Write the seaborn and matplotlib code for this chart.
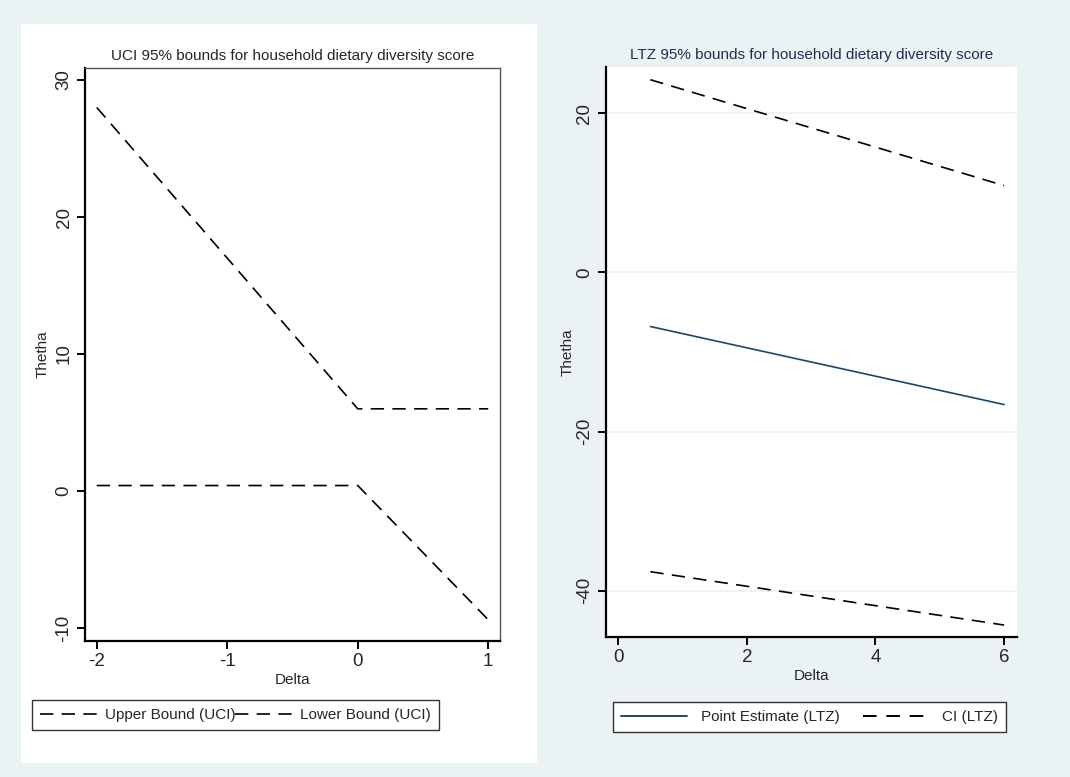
import matplotlib
matplotlib.use("Agg")
import matplotlib.pyplot as plt
from matplotlib.patches import Rectangle
from matplotlib.lines import Line2D
import seaborn as sns

# values
uci_delta = [-2, 0, 1]
uci_upper = [28, 6, 6]
uci_lower = [0.4, 0.4, -9.4]

ltz_delta = [0.5, 6]
ltz_point = [-6.8, -16.6]
ltz_ci_upper = [24.2, 10.9]
ltz_ci_lower = [-37.6, -44.3]

uci_xticks = [-2, -1, 0, 1]
uci_yticks = [-10, 0, 10, 20, 30]
ltz_xticks = [0, 2, 4, 6]
ltz_yticks = [-40, -20, 0, 20]

BG = "#EAF2F3"
NAVY = "#1A476F"
DASH = (0, (8, 5))
W, H = 1070, 777

sns.set_theme(style="white")
plt.rcParams["font.family"] = ["Liberation Sans", "DejaVu Sans"]

fig = plt.figure(figsize=(W / 100, H / 100), dpi=100, facecolor=BG)


def px_axes(x0, y0, x1, y1):
    # pixel box (top-left origin) -> figure axes
    return fig.add_axes([x0 / W, 1 - y1 / H, (x1 - x0) / W, (y1 - y0) / H])


def style_axes(ax, box):
    ax.set_facecolor("white")
    for side in ["left", "bottom"]:
        ax.spines[side].set_color("black")
        ax.spines[side].set_linewidth(1.6)
    for side in ["top", "right"]:
        ax.spines[side].set_visible(box)
        ax.spines[side].set_color("#555555")
        ax.spines[side].set_linewidth(1.0)
    ax.tick_params(axis="both", direction="out", length=6, width=1.4, color="black",
                   labelsize=13.5, pad=3, left=True, bottom=True)
    for lab in ax.get_yticklabels():
        lab.set_rotation(90)
        lab.set_va("center")


# white panel behind the left graph
fig.patches.append(Rectangle((21 / W, 1 - 763 / H), (537 - 21) / W, (763 - 24) / H,
                             transform=fig.transFigure, facecolor="white", edgecolor="none",
                             zorder=-5))

# ---- left: UCI ----
ax1 = px_axes(85, 68, 500, 641)
sns.lineplot(x=uci_delta, y=uci_upper, ax=ax1, color="black", lw=1.2, linestyle=DASH,
             estimator=None, sort=False)
sns.lineplot(x=uci_delta, y=uci_lower, ax=ax1, color="black", lw=1.2, linestyle=DASH,
             estimator=None, sort=False)
ax1.set_xlim(-2.09, 1.09)
ax1.set_ylim(-10.95, 30.88)
ax1.set_xticks(uci_xticks)
ax1.set_yticks(uci_yticks)
ax1.set_xticklabels([str(v) for v in uci_xticks])
ax1.set_yticklabels([str(v) for v in uci_yticks])
style_axes(ax1, box=True)
ax1.set_xlabel("Delta", fontsize=11, labelpad=2)
ax1.set_ylabel("Thetha", fontsize=11, labelpad=4)
ax1.set_title("UCI 95% bounds for household dietary diversity score", fontsize=11, pad=6)

h1 = [Line2D([], [], color="black", lw=1.2, linestyle=DASH),
      Line2D([], [], color="black", lw=1.2, linestyle=DASH)]
fig.legend(h1, ["Upper Bound (UCI)", "Lower Bound (UCI)"], ncol=2,
           loc="center left", bbox_to_anchor=(32 / W, 1 - 715 / H),
           frameon=True, fancybox=False, edgecolor="#333333", framealpha=1,
           fontsize=11, handlelength=3.8, handletextpad=0.45, columnspacing=0.0,
           borderpad=0.5, borderaxespad=0)

# ---- right: LTZ ----
ax2 = px_axes(606, 67, 1017, 637)
for v in ltz_yticks:
    ax2.axhline(v, color=BG, lw=1.2, zorder=0)
sns.lineplot(x=ltz_delta, y=ltz_point, ax=ax2, color=NAVY, lw=1.2,
             estimator=None, sort=False)
sns.lineplot(x=ltz_delta, y=ltz_ci_upper, ax=ax2, color="black", lw=1.2, linestyle=DASH,
             estimator=None, sort=False)
sns.lineplot(x=ltz_delta, y=ltz_ci_lower, ax=ax2, color="black", lw=1.2, linestyle=DASH,
             estimator=None, sort=False)
ax2.set_xlim(-0.19, 6.2)
ax2.set_ylim(-45.8, 25.8)
ax2.set_xticks(ltz_xticks)
ax2.set_yticks(ltz_yticks)
ax2.set_xticklabels([str(v) for v in ltz_xticks])
ax2.set_yticklabels([str(v) for v in ltz_yticks])
style_axes(ax2, box=False)
ax2.set_xlabel("Delta", fontsize=11, labelpad=2)
ax2.set_ylabel("Thetha", fontsize=11, labelpad=1)
ax2.set_title("LTZ 95% bounds for household dietary diversity score", fontsize=11,
              pad=6, color="#1E2D53")

h2 = [Line2D([], [], color=NAVY, lw=1.4),
      Line2D([], [], color="black", lw=1.4, linestyle=(0, (7, 5)))]
fig.legend(h2, ["Point Estimate (LTZ)", "CI (LTZ)"], ncol=2,
           loc="center left", bbox_to_anchor=(613 / W, 1 - 717 / H),
           frameon=True, fancybox=False, edgecolor="#333333", framealpha=1,
           fontsize=11, handlelength=4.3, handletextpad=0.9, columnspacing=1.5,
           borderpad=0.55, borderaxespad=0)

fig.savefig("out.png", dpi=100, facecolor=BG)
